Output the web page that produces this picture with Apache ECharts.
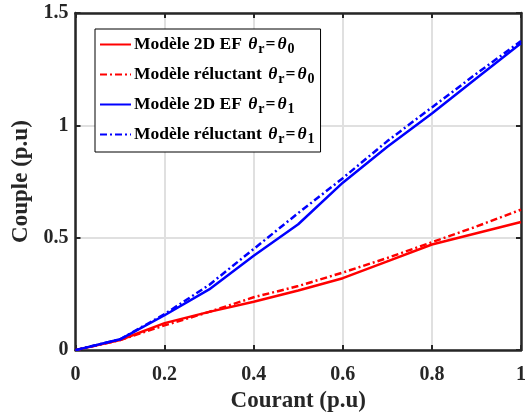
<!DOCTYPE html>
<html>
<head>
<meta charset="utf-8">
<script src="https://cdn.jsdelivr.net/npm/echarts@6/dist/echarts.min.js"></script>
<style>html,body{margin:0;padding:0;background:#fff;}#c{width:529px;height:418px;}</style>
</head>
<body>
<div id="c"></div>
<script>
var courant = [0, 0.1, 0.2, 0.3, 0.4, 0.5, 0.6, 0.7, 0.8, 0.9, 1];
var ef0 = [0, 0.045, 0.12, 0.17, 0.215, 0.265, 0.32, 0.395, 0.47, 0.52, 0.57];
var rel0 = [0, 0.045, 0.11, 0.17, 0.235, 0.285, 0.345, 0.41, 0.48, 0.55, 0.625];
var ef1 = [0, 0.048, 0.155, 0.27, 0.42, 0.56, 0.745, 0.905, 1.053, 1.21, 1.365];
var rel1 = [0, 0.048, 0.16, 0.29, 0.45, 0.61, 0.765, 0.93, 1.08, 1.23, 1.375];
var xTicks = ['0', '0.2', '0.4', '0.6', '0.8', '1'];
var yTicks = ['0', '0.5', '1', '1.5'];
var names = ['Modèle 2D EF θr=θ0', 'Modèle réluctant θr=θ0', 'Modèle 2D EF θr=θ1', 'Modèle réluctant θr=θ1'];
var legendRich = [
  ['Modèle 2D EF ', '0'],
  ['Modèle réluctant ', '0'],
  ['Modèle 2D EF ', '1'],
  ['Modèle réluctant ', '1']
];

function pairs(ys) { return courant.map(function (x, i) { return [x, ys[i]]; }); }

var F = '"Liberation Serif", "Times New Roman", serif';
var AX = '#262626';

var chart = echarts.init(document.getElementById('c'), null, { renderer: 'canvas' });

function fmtNum(v) { return String(Math.round(v * 10) / 10); }

var option = {
  backgroundColor: '#fff',
  animation: false,
  textStyle: { fontFamily: F },
  grid: { left: 75.5, right: 3.5, top: 13, bottom: 63, containLabel: false },
  legend: {
    orient: 'vertical',
    left: 95,
    top: 29,
    padding: [2, 5, 6, 4],
    itemGap: 5,
    itemWidth: 31,
    itemHeight: 14,
    borderColor: '#000',
    borderWidth: 1,
    backgroundColor: '#fff',
    itemStyle: { opacity: 0, borderWidth: 0 },
    data: names,
    formatter: function (name) {
      var i = names.indexOf(name);
      var r = legendRich[i];
      return '{a|' + r[0] + '}{t|θ}{s|r}{a|=}{t|θ}{s|' + r[1] + '}';
    },
    textStyle: {
      fontFamily: F,
      padding: [0, 0, 0, -2],
      rich: {
        a: { fontFamily: F, fontWeight: 'bold', fontSize: 17.5, color: '#000', lineHeight: 23 },
        t: { fontFamily: F, fontWeight: 'bold', fontStyle: 'italic', fontSize: 17.5, color: '#000', lineHeight: 23, padding: [0, 0, 0, 2] },
        s: { fontFamily: F, fontWeight: 'bold', fontSize: 14, color: '#000', lineHeight: 23, verticalAlign: 'bottom', padding: [11, 1, 0, 1] }
      }
    }
  },
  xAxis: [{
    type: 'value', min: 0, max: 1, interval: 0.2,
    name: 'Courant (p.u)', nameLocation: 'middle', nameGap: 39,
    nameTextStyle: { fontFamily: F, fontWeight: 'bold', fontSize: 23, color: '#262626' },
    axisLine: { show: true, onZero: false, lineStyle: { color: AX, width: 2.5 } },
    axisTick: { show: true, inside: true, length: 5, lineStyle: { color: AX, width: 2 } },
    axisLabel: { fontFamily: F, fontWeight: 'bold', fontSize: 20, color: '#262626', margin: 15,
      formatter: function (v) { var s = fmtNum(v); return xTicks.indexOf(s) >= 0 ? s : ''; } },
    splitLine: { show: true, lineStyle: { color: '#e0e0e0', width: 2 } }
  }, {
    type: 'value', position: 'top', min: 0, max: 1, interval: 0.2,
    axisLine: { show: true, onZero: false, lineStyle: { color: AX, width: 2.5 } },
    axisTick: { show: true, inside: true, length: 5, lineStyle: { color: AX, width: 2 } },
    axisLabel: { show: false }, splitLine: { show: false }
  }],
  yAxis: [{
    type: 'value', min: 0, max: 1.5, interval: 0.5,
    name: 'Couple (p.u)', nameLocation: 'middle', nameGap: 37,
    nameTextStyle: { fontFamily: F, fontWeight: 'bold', fontSize: 23, color: '#262626' },
    axisLine: { show: true, onZero: false, lineStyle: { color: AX, width: 2.5 } },
    axisTick: { show: true, inside: true, length: 5, lineStyle: { color: AX, width: 2 } },
    axisLabel: { fontFamily: F, fontWeight: 'bold', fontSize: 20, color: '#262626', margin: 7,
      formatter: function (v) { var s = fmtNum(v); return yTicks.indexOf(s) >= 0 ? s : ''; } },
    splitLine: { show: true, lineStyle: { color: '#e0e0e0', width: 2 } }
  }, {
    type: 'value', position: 'right', min: 0, max: 1.5, interval: 0.5,
    axisLine: { show: true, onZero: false, lineStyle: { color: AX, width: 2.5 } },
    axisTick: { show: true, inside: true, length: 5, lineStyle: { color: AX, width: 2 } },
    axisLabel: { show: false }, splitLine: { show: false }
  }],
  series: [
    { name: names[0], type: 'line', data: pairs(ef0), symbol: 'none', lineStyle: { color: '#ff0000', width: 2.5, type: 'solid' }, itemStyle: { color: '#ff0000' } },
    { name: names[1], type: 'line', data: pairs(rel0), symbol: 'none', lineStyle: { color: '#ff0000', width: 2.5, type: [7, 3, 2, 3] }, itemStyle: { color: '#ff0000' } },
    { name: names[2], type: 'line', data: pairs(ef1), symbol: 'none', lineStyle: { color: '#0000ff', width: 2.5, type: 'solid' }, itemStyle: { color: '#0000ff' } },
    { name: names[3], type: 'line', data: pairs(rel1), symbol: 'none', lineStyle: { color: '#0000ff', width: 2.5, type: [7, 3, 2, 3] }, itemStyle: { color: '#0000ff' } }
  ]
};
chart.setOption(option);
</script>
</body>
</html>
